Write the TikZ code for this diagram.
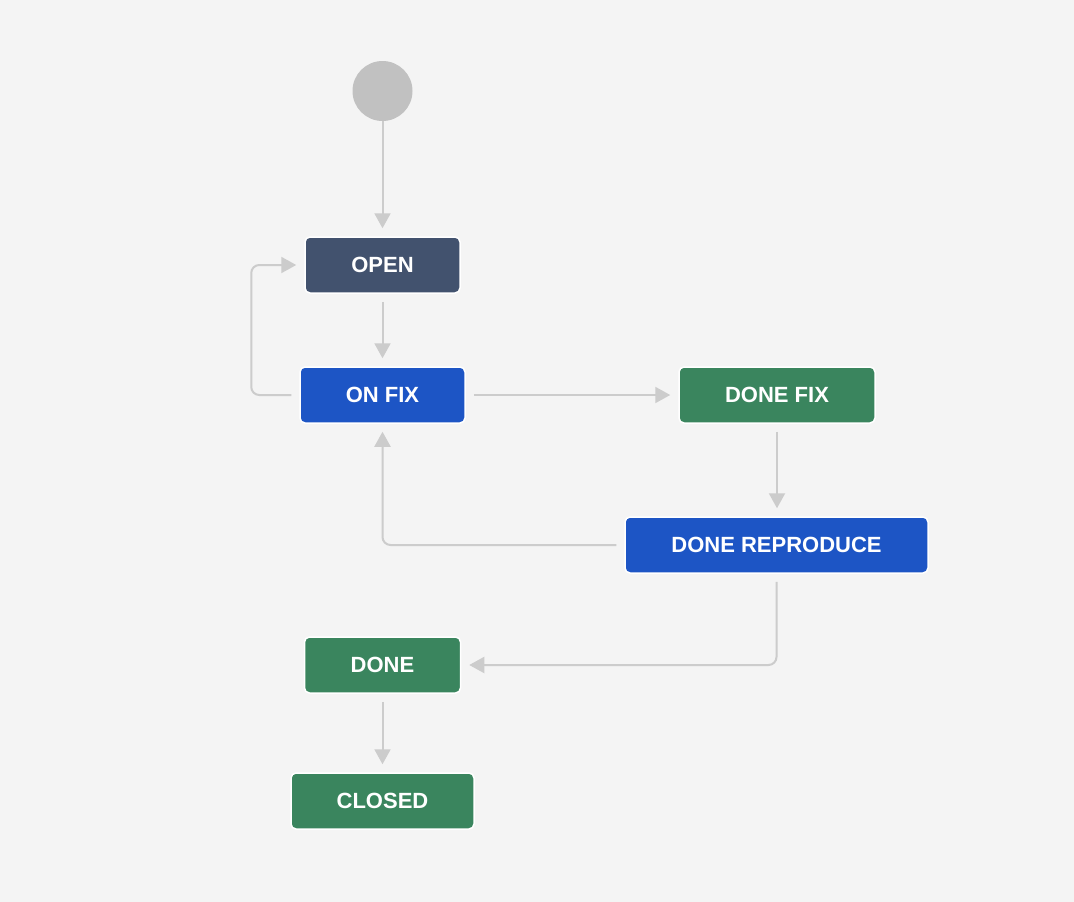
\documentclass[tikz,border=0pt]{standalone}
\usepackage{fontspec}
\setmainfont{Liberation Sans}
\usetikzlibrary{arrows.meta}
\definecolor{bgc}{HTML}{F4F4F4}
\definecolor{startc}{HTML}{C1C1C1}
\definecolor{linec}{HTML}{CCCCCC}
\definecolor{openc}{HTML}{42526E}
\definecolor{bluec}{HTML}{1D55C5}
\definecolor{greenc}{HTML}{3A855E}
\tikzset{
  state/.style={rectangle, rounded corners=5pt, draw=white, line width=1.5pt,
    minimum height=56pt, inner sep=0pt, text=white,
    font=\fontsize{22}{26}\selectfont\bfseries},
  conn/.style={draw=linec, line width=2pt, rounded corners=8pt,
    -{Triangle[width=16pt,length=15pt]}, shorten >=8pt, shorten <=8pt},
}
\begin{document}
\begin{tikzpicture}[x=1pt,y=-1pt]
\fill[bgc] (0,0) rectangle (1074,902);
\useasboundingbox (0,0) rectangle (1074,902);
\node[circle, fill=startc, minimum size=60pt, inner sep=0pt] (start) at (382.5,91) {};
\node[state, fill=openc, minimum width=155pt] (open) at (382.5,265) {OPEN};
\node[state, fill=bluec, minimum width=165pt] (onfix) at (382.5,395) {ON FIX};
\node[state, fill=greenc, minimum width=196pt] (donefix) at (777,395) {DONE FIX};
\node[state, fill=bluec, minimum width=303pt] (drep) at (776.5,545) {DONE REPRODUCE};
\node[state, fill=greenc, minimum width=156pt] (done) at (382.5,665) {DONE};
\node[state, fill=greenc, minimum width=183pt] (closed) at (382.5,801) {CLOSED};
\draw[conn, shorten <=0pt] (start) -- (open);
\draw[conn] (open) -- (onfix);
\draw[conn] (onfix.west) -- ++(-48,0) |- (open.west);
\draw[conn] (onfix) -- (donefix);
\draw[conn] (donefix) -- (donefix |- drep.north);
\draw[conn] (drep.west) -| (onfix.south);
\draw[conn] (drep.south) |- (done.east);
\draw[conn] (done) -- (closed);
\end{tikzpicture}
\end{document}
